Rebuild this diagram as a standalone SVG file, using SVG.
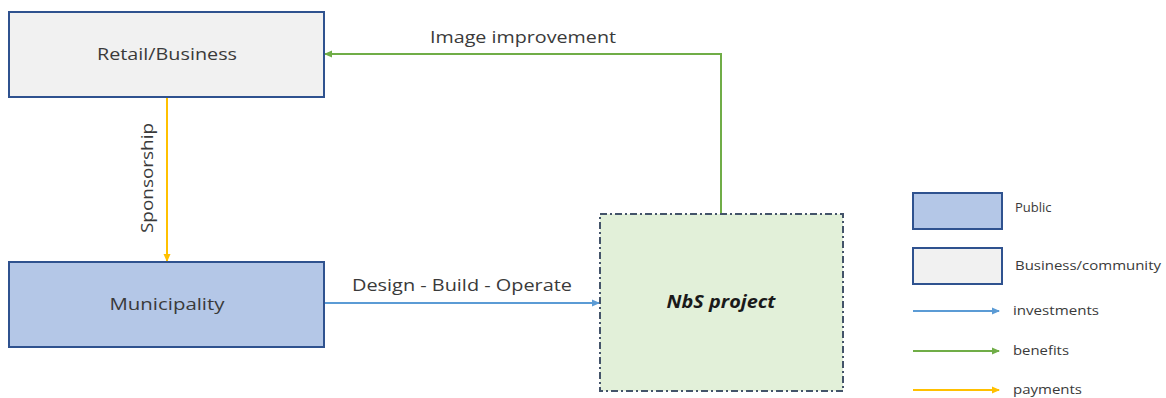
<svg xmlns="http://www.w3.org/2000/svg" width="1166" height="398" viewBox="0 0 1166 398">
  <style>
    .txt { font-family: "Open Sans", "Liberation Sans", sans-serif; fill: #3a3a3a; }
    .lbl { font-size: 17px; }
    .leg { font-size: 13px; }
    .pub { fill: #b4c7e7; stroke: #2f528f; stroke-width: 2; }
    .biz { fill: #f1f1f1; stroke: #2f528f; stroke-width: 2; }
    .nbs { fill: #e2f0d9; stroke: #44546a; stroke-width: 2; stroke-dasharray: 7 3 2 3; }
    .inv { stroke: #5b9bd5; stroke-width: 2; fill: none; }
    .ben { stroke: #70ad47; stroke-width: 2; fill: none; }
    .pay { stroke: #ffc000; stroke-width: 2; fill: none; }
  </style>
  <defs>
    <marker id="arrInv" markerWidth="8" markerHeight="8" refX="7" refY="4" orient="auto" markerUnits="userSpaceOnUse">
      <path d="M0,0.5 L8,4 L0,7.5 Z" fill="#5b9bd5"/>
    </marker>
    <marker id="arrBen" markerWidth="8" markerHeight="8" refX="7" refY="4" orient="auto" markerUnits="userSpaceOnUse">
      <path d="M0,0.5 L8,4 L0,7.5 Z" fill="#70ad47"/>
    </marker>
    <marker id="arrPay" markerWidth="8" markerHeight="8" refX="7" refY="4" orient="auto" markerUnits="userSpaceOnUse">
      <path d="M0,0.5 L8,4 L0,7.5 Z" fill="#ffc000"/>
    </marker>
  </defs>

  <rect width="1166" height="398" fill="#ffffff"/>

  <!-- connectors -->
  <g id="connectors">
    <path class="ben" d="M721,214 V54 H325" marker-end="url(#arrBen)"/>
    <text class="txt lbl" x="523" y="43" text-anchor="middle" textLength="186" lengthAdjust="spacingAndGlyphs">Image improvement</text>
    <path class="pay" d="M167,97 V261" marker-end="url(#arrPay)"/>
    <text class="txt lbl" transform="translate(153,178) rotate(-90)" text-anchor="middle" textLength="110" lengthAdjust="spacingAndGlyphs">Sponsorship</text>
    <path class="inv" d="M324,303 H599" marker-end="url(#arrInv)"/>
    <text class="txt lbl" x="462" y="291" text-anchor="middle" textLength="220" lengthAdjust="spacingAndGlyphs">Design - Build - Operate</text>
  </g>

  <!-- nodes -->
  <g id="retail">
    <rect class="biz" x="9" y="12" width="315" height="85"/>
    <text class="txt lbl" x="167" y="60" text-anchor="middle" textLength="140" lengthAdjust="spacingAndGlyphs">Retail/Business</text>
  </g>
  <g id="municipality">
    <rect class="pub" x="9" y="262" width="315" height="85"/>
    <text class="txt lbl" x="167" y="310" text-anchor="middle" textLength="115" lengthAdjust="spacingAndGlyphs">Municipality</text>
  </g>
  <g id="nbs-project">
    <rect class="nbs" x="600" y="214" width="243" height="177"/>
    <text x="721" y="308" text-anchor="middle" font-family="'Open Sans', 'Liberation Sans', sans-serif" font-size="17" font-weight="bold" font-style="italic" fill="#1a1a1a" textLength="109" lengthAdjust="spacingAndGlyphs">NbS project</text>
  </g>

  <!-- legend -->
  <g id="legend">
    <rect class="pub" x="913" y="193" width="89" height="36"/>
    <text class="txt leg" x="1015" y="212">Public</text>
    <rect class="biz" x="913" y="248" width="89" height="36"/>
    <text class="txt leg" x="1015" y="270" textLength="146" lengthAdjust="spacingAndGlyphs">Business/community</text>
    <line class="inv" x1="913" y1="311" x2="999" y2="311" marker-end="url(#arrInv)"/>
    <text class="txt leg" x="1013" y="315" textLength="86" lengthAdjust="spacingAndGlyphs">investments</text>
    <line class="ben" x1="913" y1="351" x2="999" y2="351" marker-end="url(#arrBen)"/>
    <text class="txt leg" x="1013" y="355" textLength="56" lengthAdjust="spacingAndGlyphs">benefits</text>
    <line class="pay" x1="913" y1="390" x2="999" y2="390" marker-end="url(#arrPay)"/>
    <text class="txt leg" x="1013" y="394" textLength="69" lengthAdjust="spacingAndGlyphs">payments</text>
  </g>
</svg>
